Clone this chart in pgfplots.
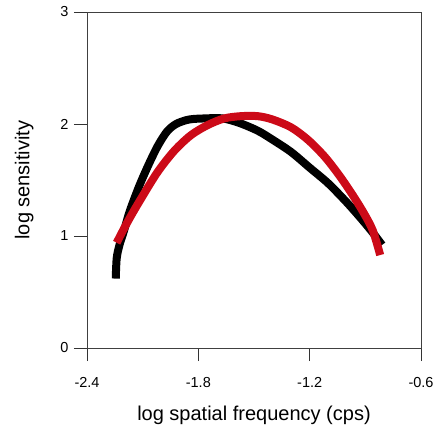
\documentclass[border=0pt]{standalone}
\usepackage{pgfplots}
\pgfplotsset{compat=1.18}
\usepackage{fontspec}
\setmainfont{Liberation Sans}
\definecolor{cred}{RGB}{204,10,24}
\begin{document}
\begin{tikzpicture}
\begin{axis}[
  scale only axis,
  width=334pt, height=336pt,
  xmin=-2.4, xmax=-0.6, ymin=0, ymax=3,
  xtick={-2.4,-1.8,-1.2,-0.6},
  ytick={0,1,2,3},
  xticklabels={-2.4,-1.8,-1.2,-0.6},
  yticklabels={0,1,2,3},
  tick align=outside,
  xtick pos=bottom, ytick pos=left,
  major tick length=13pt,
  tick style={line width=0.9pt, color=black!80},
  axis line style={line width=0.9pt, color=black!75},
  ticklabel style={font=\fontsize{14.5}{16}\selectfont},
  xticklabel style={yshift=-13pt},
  yticklabel style={xshift=-2pt},
  xlabel={log spatial frequency (cps)},
  ylabel={log sensitivity},
  label style={font=\fontsize{20}{24}\selectfont},
  xlabel style={yshift=-11pt},
  ylabel style={yshift=20pt},
  clip=false,
]
\addplot[black, line width=8pt, smooth] coordinates {
(-2.245,0.62) (-2.24,0.80) (-2.225,0.92) (-2.20,1.05) (-2.17,1.22) (-2.12,1.44)
(-2.07,1.63) (-2.02,1.80) (-1.97,1.93) (-1.92,2.00) (-1.85,2.04) (-1.76,2.05)
(-1.67,2.05) (-1.58,2.01) (-1.48,1.94) (-1.40,1.86) (-1.30,1.75) (-1.20,1.61)
(-1.10,1.47) (-1.00,1.30) (-0.92,1.15) (-0.86,1.03) (-0.81,0.92)
};
\addplot[cred, line width=8pt, smooth] coordinates {
(-2.24,0.94) (-2.18,1.13) (-2.11,1.33) (-2.02,1.57) (-1.93,1.76) (-1.84,1.90)
(-1.75,1.99) (-1.66,2.05) (-1.57,2.07) (-1.48,2.07) (-1.40,2.04) (-1.30,1.97)
(-1.21,1.86) (-1.12,1.71) (-1.04,1.54) (-0.97,1.37) (-0.91,1.21) (-0.86,1.05)
(-0.82,0.83)
};
\end{axis}
\path (-87pt,-85pt) rectangle (351pt,348pt);
\end{tikzpicture}
\end{document}
